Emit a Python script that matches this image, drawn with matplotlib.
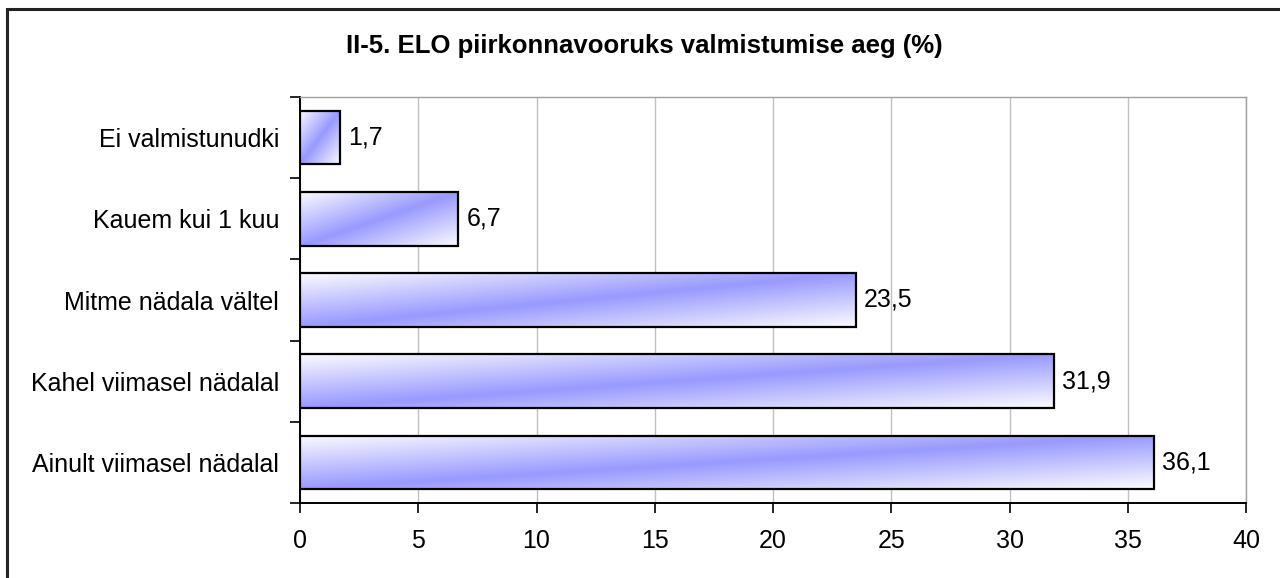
import numpy as np
import matplotlib
matplotlib.use("Agg")
import matplotlib.pyplot as plt
from matplotlib.patches import Rectangle

categories = ["Ainult viimasel nädalal", "Kahel viimasel nädalal", "Mitme nädala vältel",
              "Kauem kui 1 kuu", "Ei valmistunudki"]
values = [36.1, 31.9, 23.5, 6.7, 1.7]
value_labels = ["36,1", "31,9", "23,5", "6,7", "1,7"]
title = "II-5. ELO piirkonnavooruks valmistumise aeg (%)"
xticks = [0, 5, 10, 15, 20, 25, 30, 35, 40]

plt.rcParams['font.family'] = ['Liberation Sans', 'DejaVu Sans']

W, H = 1280, 578
fig = plt.figure(figsize=(W / 100, H / 100), dpi=100)
ax = fig.add_axes([300 / W, 1 - 503 / H, (1246 - 300) / W, (503 - 97) / H])

ypos = np.arange(len(categories))
bar_h = 0.66
bars = ax.barh(ypos, values, height=bar_h, facecolor='none', edgecolor='black',
               linewidth=1.6, zorder=3)

blue = np.array([153, 153, 255]) / 255.0
white = np.array([252, 252, 255]) / 255.0
n = 200
u = np.linspace(0, 1, n)[None, :]
w = np.linspace(0, 1, n)[:, None]   # 0 = top row
s = (u + w) / 2.0
d = np.abs(2 * s - 1)
img = blue[None, None, :] + (white - blue)[None, None, :] * d[:, :, None]

for b, v, lab in zip(bars, values, value_labels):
    x0, y0 = b.get_x(), b.get_y()
    bw, bh = b.get_width(), b.get_height()
    im = ax.imshow(img, extent=(x0, x0 + bw, y0, y0 + bh), origin='upper',
                   aspect='auto', zorder=2, interpolation='bilinear')
    im.set_clip_path(b)
    ax.text(v + 0.33, y0 + bh / 2, lab, va='center', ha='left', fontsize=18, zorder=4)

ax.set_xlim(0, 40)
ax.set_ylim(-0.5, len(categories) - 0.5)
ax.set_xticks(xticks)
ax.set_xticklabels([str(t) for t in xticks])
ax.set_yticks(ypos)
ax.set_yticklabels(categories)
ax.set_yticks(np.arange(-0.5, len(categories), 1.0), minor=True)
ax.tick_params(axis='y', which='major', length=0, pad=15, labelsize=18)
ax.tick_params(axis='y', which='minor', length=7, width=1.2, direction='out')
ax.tick_params(axis='x', length=7, width=1.2, direction='out', pad=12, labelsize=18)

ax.grid(axis='x', color='#c0c0c0', linewidth=1.0, zorder=0)
ax.set_axisbelow(True)
for side in ['top', 'right']:
    ax.spines[side].set_color('#a0a0a0')
    ax.spines[side].set_linewidth(1.0)
for side in ['left', 'bottom']:
    ax.spines[side].set_color('black')
    ax.spines[side].set_linewidth(1.4)

fig.text(644 / W, 1 - 46 / H, title, ha='center', va='center', fontsize=18.5, fontweight='bold')

fig.patches.append(Rectangle((7 / W, -1), 5, 1 - 9 / H + 1, transform=fig.transFigure,
                             fill=False, edgecolor='#222222', linewidth=2.2))

fig.savefig("out.png", dpi=100)
